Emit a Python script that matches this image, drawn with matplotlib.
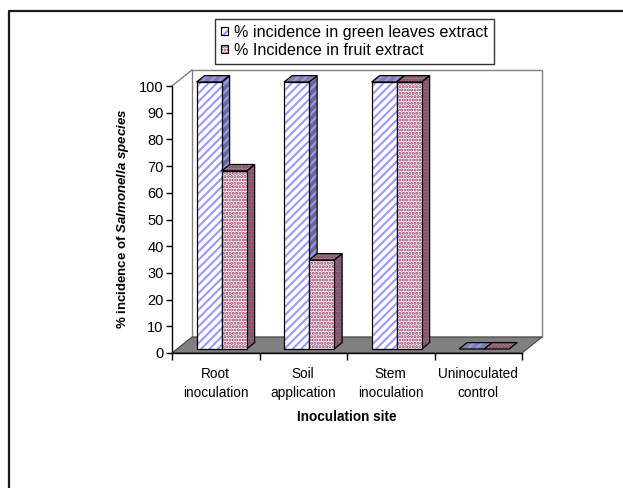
import numpy as np
import matplotlib
matplotlib.use('Agg')
import matplotlib.pyplot as plt
from matplotlib.patches import Polygon, Patch
from matplotlib.lines import Line2D
from matplotlib.legend_handler import HandlerTuple

plt.rcParams['font.family'] = ['Liberation Sans', 'DejaVu Sans']
plt.rcParams['mathtext.fontset'] = 'custom'
plt.rcParams['mathtext.rm'] = 'Liberation Sans:bold'
plt.rcParams['mathtext.it'] = 'Liberation Sans:italic:bold'
plt.rcParams['hatch.linewidth'] = 1.5

sites = ['Root\ninoculation', 'Soil\napplication', 'Stem\ninoculation', 'Uninoculated\ncontrol']
green_leaves = [100, 100, 100, 0]
fruit = [66.7, 33.3, 100, 0]
series_labels = ['% incidence in green leaves extract', '% Incidence in fruit extract']

fig = plt.figure(figsize=(6.23, 4.88), dpi=100)
ax = fig.add_axes([172/623, 1-353/488, 350/623, 267/488])
ax.set_xlim(0, 4)
ax.set_ylim(0, 100)

# depth of the 3d box in data units (x in categories, y in %)
DX, DY = 0.2286, 6.0

def depth(f):
    return f*DX, f*DY

def face(pts, fc, hc, hatch):
    ax.add_patch(Polygon(pts, closed=True, facecolor=fc, edgecolor=hc, hatch=hatch,
                         lw=0, clip_on=False, zorder=2))
    ax.add_patch(Polygon(pts, closed=True, fill=False, edgecolor='black', lw=0.9,
                         clip_on=False, zorder=2))

# back wall, left wall edge and floor
wall = [(DX, DY), (4+DX, DY), (4+DX, 100+DY), (DX, 100+DY)]
ax.add_patch(Polygon(wall, facecolor='white', edgecolor='#808080', lw=1, clip_on=False, zorder=1))
ax.plot([0, DX], [100, 100+DY], color='#808080', lw=1, clip_on=False, zorder=1)
floor = [(0, 0), (4, 0), (4+DX, DY), (DX, DY)]
ax.add_patch(Polygon(floor, facecolor='#808080', edgecolor='#404040', lw=0.8, clip_on=False, zorder=1))

styles = [dict(side='#6a6a88', top='#8080a0', hc='#9999ff', hatch='////'),
          dict(side='#7a7a7a', top='#8c8c8c', hc='#993366', hatch='.....')]
F0, F1 = 0.25, 0.65
w = 0.2857
ox0, oy0 = depth(F0)
ox1, oy1 = depth(F1)
for i in range(len(sites)):
    for j, vals in enumerate([green_leaves, fruit]):
        v = vals[i]
        st = styles[j]
        x0 = i + 0.51 - w + j*w
        x1 = x0 + w
        if v > 0:
            face([(x1+ox0, oy0), (x1+ox1, oy1), (x1+ox1, v+oy1), (x1+ox0, v+oy0)],
                 st['side'], st['hc'], st['hatch'])
        face([(x0+ox0, v+oy0), (x1+ox0, v+oy0), (x1+ox1, v+oy1), (x0+ox1, v+oy1)],
             st['top'], st['hc'], st['hatch'])
        if v > 0:
            face([(x0+ox0, oy0), (x1+ox0, oy0), (x1+ox0, v+oy0), (x0+ox0, v+oy0)],
                 'white', st['hc'], st['hatch'])

for s in ['top', 'right']:
    ax.spines[s].set_visible(False)
ax.spines['left'].set_linewidth(1)
ax.spines['bottom'].set_linewidth(1)

ax.set_yticks(np.arange(0, 101, 10))
ax.tick_params(axis='y', direction='out', length=4, width=1, labelsize=10.5, pad=2)
ax.set_xticks(range(5))
ax.set_xticklabels([])
ax.set_xticks(np.arange(4) + 0.5, minor=True)
ax.set_xticklabels(sites, minor=True, fontsize=9.8, linespacing=1.5)
ax.tick_params(axis='x', which='major', direction='out', length=5, width=1)
ax.tick_params(axis='x', which='minor', length=0, pad=10)

fig.text(123/623, 1-219/488, r'% incidence of $\it{Salmonella\ species}$', rotation=90,
         ha='center', va='center', fontsize=9.5, fontweight='bold')
fig.text(347/623, 1-417/488, 'Inoculation site', ha='center', va='center',
         fontsize=9.8, fontweight='bold')

h1 = (Patch(facecolor='white', edgecolor='#9999ff', hatch='////', lw=0),
      Patch(fill=False, edgecolor='black', lw=0.8))
h2 = (Patch(facecolor='white', edgecolor='#993366', hatch='.....', lw=0),
      Patch(fill=False, edgecolor='black', lw=0.8))
leg = fig.legend([h1, h2], series_labels, handler_map={tuple: HandlerTuple(ndivide=1, pad=0)},
                 loc='upper left', bbox_to_anchor=(215/623, 1-19/488), fontsize=11.6,
                 frameon=True, fancybox=False, edgecolor='#333333', framealpha=1,
                 handlelength=0.45, handleheight=0.45, handletextpad=0.4,
                 labelspacing=0.2, borderpad=0.35, borderaxespad=0)
leg.get_frame().set_linewidth(1.0)

# outer chart frame
fig.add_artist(Line2D([8.5/623, 8.5/623, 1], [0, 1-10.5/488, 1-10.5/488],
                      color='#1a1a1a', lw=1.6, transform=fig.transFigure))

fig.savefig('out.png', dpi=100)
